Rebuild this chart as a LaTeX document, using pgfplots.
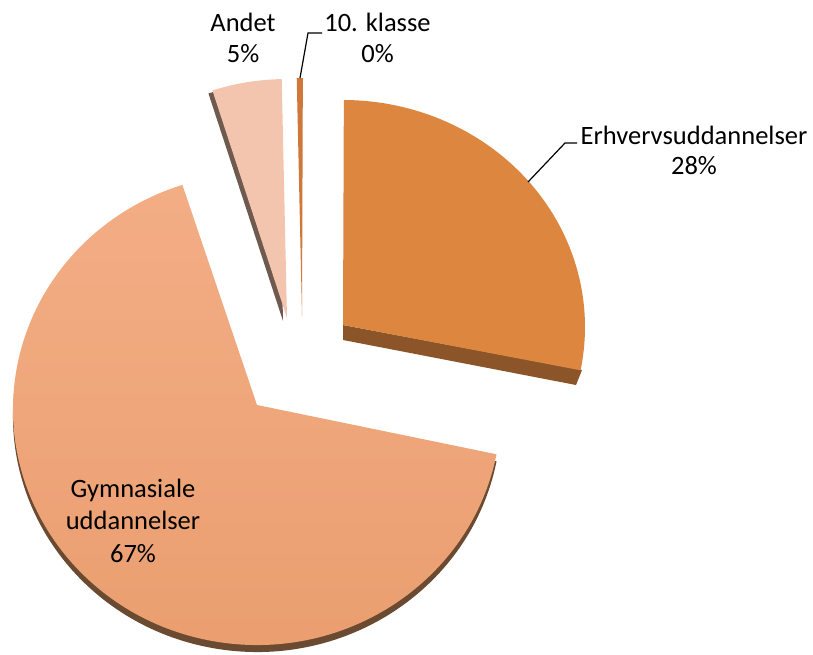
\documentclass[border=0pt]{standalone}
\usepackage{pgfplots}
\pgfplotsset{compat=1.18}
\usepackage{fontspec}
\setmainfont{Carlito}
\usetikzlibrary{calc}
\definecolor{gymF}{HTML}{F0A77B}
\definecolor{gymT}{HTML}{F3AD85}
\definecolor{gymB}{HTML}{EA9E6F}
\definecolor{gymS}{HTML}{6B4A32}
\definecolor{erhF}{HTML}{DC8640}
\definecolor{erhS}{HTML}{8B5529}
\definecolor{andF}{HTML}{F4C5AE}
\definecolor{andS}{HTML}{6E5A4E}
\definecolor{klF}{HTML}{D0783A}
% data (percent)
\def\vErh{28.0}
\def\vGym{67.0}
\def\vAnd{4.6}
\def\vKl{0.4}
\pgfmathsetmacro\aA{89.8}
\pgfmathsetmacro\aB{\aA-3.6*\vErh}
\pgfmathsetmacro\aC{\aB-3.6*\vGym}
\pgfmathsetmacro\aD{\aC-3.6*\vAnd}
\pgfmathsetmacro\aE{\aD-3.6*\vKl}
% apex x, apex y, ellipse cx, cy, rx, ry, t0, t1, style
\newcommand\pieslice[9]{\path[#9] (axis cs:#1,#2) -- ($(axis cs:#3,#4)+(#7:#5pt and #6pt)$) arc[start angle=#7, end angle=#8, x radius=#5pt, y radius=#6pt] -- cycle;}
\tikzset{lbl/.style={anchor=base,inner sep=0pt,font=\fontsize{26.5pt}{31pt}\selectfont}}
\begin{document}
\begin{tikzpicture}
\begin{axis}[width=813pt,height=655pt,scale only axis,
  xmin=0,xmax=813,ymin=0,ymax=655,y dir=reverse,hide axis,clip=false]
\path (axis cs:0,0) rectangle (axis cs:813,655);
% sides
\pieslice{257}{412}{257}{416.3}{244}{235.7}{\aB}{\aC}{fill=gymS}
\pieslice{283}{321}{283}{321}{244}{239}{\aC}{\aD}{fill=andS}
\fill[erhS] (axis cs:343,325) -- (axis cs:582,370) -- (axis cs:576,385) -- (axis cs:343,340) -- cycle;
% faces
\pieslice{257}{405}{257}{409.3}{244}{235.7}{\aB}{\aC}{top color=gymT,bottom color=gymB}
\pieslice{343}{325}{343}{327}{242}{227}{\aA}{\aB}{fill=erhF}
\pieslice{287}{318}{287}{318}{244}{239}{\aC}{\aD}{fill=andF}
\pieslice{302}{316}{302}{316}{244}{238}{\aD}{\aE}{fill=klF}
% leader lines
\draw[black,line width=1.2pt] (axis cs:300,78) -- (axis cs:308,33) -- (axis cs:322,33);
\draw[black,line width=1.2pt] (axis cs:528,182) -- (axis cs:565,143) -- (axis cs:577,143);
% labels
\node[lbl] at (axis cs:243,32) {Andet};
\node[lbl] at (axis cs:243,63) {5\%};
\node[lbl] at (axis cs:377.5,32) {10. klasse};
\node[lbl] at (axis cs:377.5,63) {0\%};
\node[lbl] at (axis cs:694,145) {Erhvervsuddannelser};
\node[lbl] at (axis cs:694,175) {28\%};
\node[lbl] at (axis cs:133,497) {Gymnasiale};
\node[lbl] at (axis cs:133,529) {uddannelser};
\node[lbl] at (axis cs:133,562) {67\%};
\end{axis}
\pgfresetboundingbox
\useasboundingbox (current axis.south west) rectangle (current axis.north east);
\end{tikzpicture}
\end{document}
